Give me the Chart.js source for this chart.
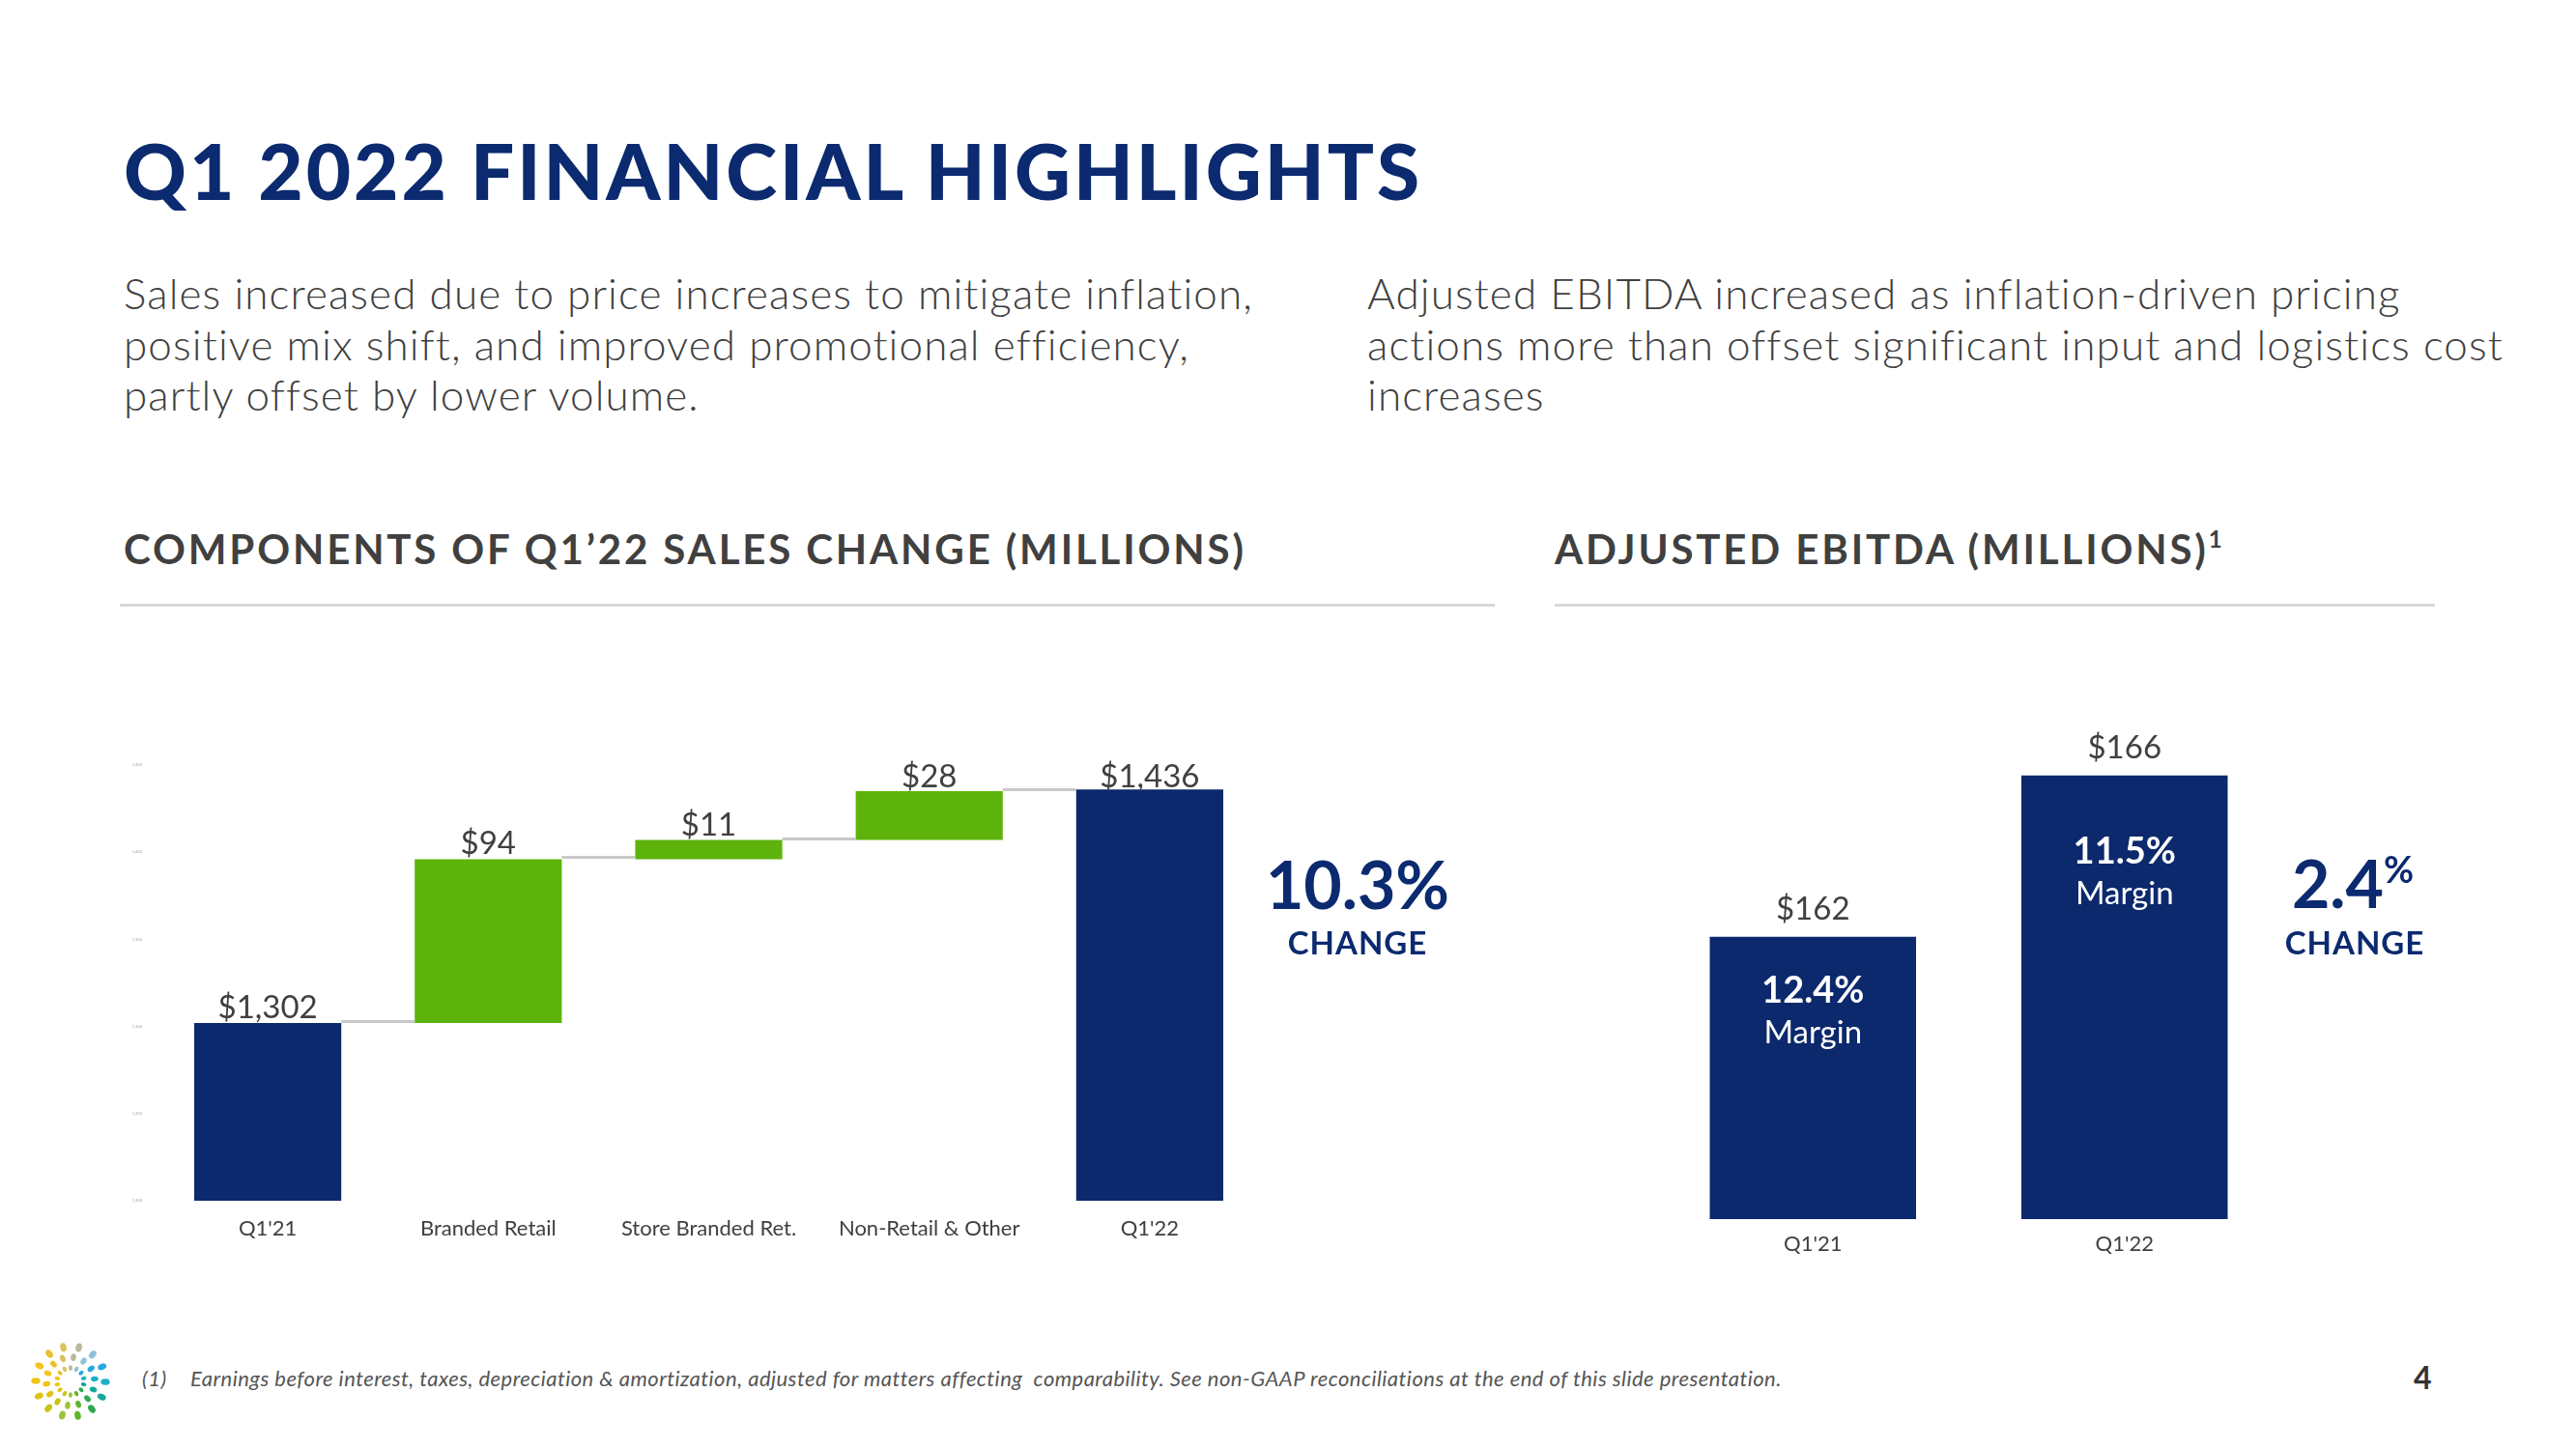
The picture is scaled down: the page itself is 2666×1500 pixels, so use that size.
<!DOCTYPE html>
<html>
<head>
<meta charset="utf-8">
<script src="https://cdn.jsdelivr.net/npm/chart.js"></script>
<style>
  html, body { margin: 0; padding: 0; background: #fff; }
  #slide { position: relative; width: 2666px; height: 1500px; overflow: hidden; font-family: 'Lato', sans-serif; color: #404040; }
  .abs { position: absolute; white-space: nowrap; }
  .title { left: 128px; top: 136px; font-size: 80px; line-height: 1; font-weight: 900; color: #0b2a6f; letter-spacing: 3px; }
  .para { font-size: 44px; line-height: 52.5px; font-weight: 300; color: #404040; letter-spacing: 1.1px; }
  .head { top: 547px; font-size: 42px; line-height: 1; font-weight: 700; color: #404040; letter-spacing: 2.85px; }
  .head sup { font-size: 24px; vertical-align: 17px; line-height: 0; letter-spacing: 0; }
  .rule { top: 625px; height: 3px; background: #d9d9d9; }
  .big { font-size: 68px; line-height: 1; font-weight: 700; color: #0b2a6f; text-align: center; }
  .big sup { font-size: 38px; vertical-align: 26px; line-height: 0; }
  .chg { font-size: 33px; line-height: 1; font-weight: 700; color: #0b2a6f; text-align: center; letter-spacing: 1px; }
  .foot { top: 1416px; font-size: 22px; line-height: 1; font-style: italic; color: #555; letter-spacing: 0.47px; }
  .page { left: 2498px; top: 1410px; font-size: 32px; line-height: 1; font-weight: 700; color: #333; }
  canvas.abs { display: block; }
</style>
</head>
<body>
<div id="slide">
  <div class="abs title">Q1 2022 FINANCIAL HIGHLIGHTS</div>

  <div class="abs para" style="left:128px; top:277px;">Sales increased due to price increases to mitigate inflation,<br>positive mix shift, and improved promotional efficiency,<br>partly offset by lower volume.</div>
  <div class="abs para" style="left:1415px; top:277px;">Adjusted EBITDA increased as inflation-driven pricing<br>actions more than offset significant input and logistics cost<br>increases</div>

  <div class="abs head" style="left:128px;">COMPONENTS OF Q1’22 SALES CHANGE (MILLIONS)</div>
  <div class="abs head" style="left:1609px;">ADJUSTED EBITDA (MILLIONS)<sup>1</sup></div>
  <div class="abs rule" style="left:124px; width:1423px;"></div>
  <div class="abs rule" style="left:1609px; width:911px;"></div>

  <canvas id="chartSales" class="abs" width="1191" height="603" style="left:113px; top:700px;"></canvas>
  <canvas id="chartEbitda" class="abs" width="645" height="622" style="left:1715px; top:700px;"></canvas>

  <div class="abs big" id="sales-change" style="left:1255px; width:300px; top:881px;"></div>
  <div class="abs chg" style="left:1255px; width:300px; top:959px;">CHANGE</div>
  <div class="abs big" id="ebitda-change" style="left:2285px; width:300px; top:880px;"></div>
  <div class="abs chg" style="left:2287px; width:300px; top:959px;">CHANGE</div>

  <canvas id="logo" class="abs" width="90" height="90" style="left:28px; top:1385px;"></canvas>
  <div class="abs foot" style="left:147px;">(1)</div>
  <div class="abs foot" style="left:197px;">Earnings before interest, taxes, depreciation &amp; amortization, adjusted for matters affecting&nbsp; comparability. See non-GAAP reconciliations at the end of this slide presentation.</div>
  <div class="abs page">4</div>
</div>

<script>
// --- Dados ---
const salesCategories = ["Q1'21", 'Branded Retail', 'Store Branded Ret.', 'Non-Retail & Other', "Q1'22"];
const salesValues = [1302, 94, 11, 28, 1436];
const salesIsTotal = [true, false, false, false, true];
const salesAxis = [1200, 1450, 50]; // min, max, passo

const ebitdaCategories = ["Q1'21", "Q1'22"];
const ebitdaValues = [162, 166];
const ebitdaMargins = [12.4, 11.5];
const ebitdaAxis = [155, 167];

const salesChangePct = 10.3;
const ebitdaChangePct = 2.4;

const NAVY = '#0b296c';
const GREEN = '#5db30b';

Chart.defaults.font.family = 'Lato';
Chart.defaults.color = '#404040';

const money = v => '$' + v.toLocaleString('en-US');

// Monta as faixas flutuantes do waterfall
let running = 0;
const salesRanges = salesValues.map((v, i) => {
    if (salesIsTotal[i]) { running = v; return [salesAxis[0], v]; }
    const r = [running, running + v];
    running += v;
    return r;
});

// --- Plugin: conectores + rótulos do waterfall ---
const waterfallExtras = {
    id: 'waterfallExtras',
    afterDatasetsDraw(chart) {
        const { ctx, chartArea, scales: { y } } = chart;
        const bars = chart.getDatasetMeta(0).data;
        ctx.save();
        ctx.strokeStyle = '#c8c8c8';
        ctx.lineWidth = 3;
        for (let i = 0; i < bars.length - 1; i++) {
            const py = Math.round(y.getPixelForValue(salesRanges[i][1])) - 1.5;
            ctx.beginPath();
            ctx.moveTo(bars[i].x + bars[i].width / 2, py);
            ctx.lineTo(bars[i + 1].x - bars[i + 1].width / 2, py);
            ctx.stroke();
        }
        ctx.fillStyle = '#404040';
        ctx.font = '400 33px Lato';
        ctx.textAlign = 'center';
        ctx.textBaseline = 'alphabetic';
        bars.forEach((bar, i) => {
            const yPos = Math.max(bar.y - 5, chartArea.top + 23);
            ctx.fillText(money(salesValues[i]), bar.x, yPos);
        });
        ctx.restore();
    }
};

// --- Plugin: rótulos do EBITDA ---
const ebitdaExtras = {
    id: 'ebitdaExtras',
    afterDatasetsDraw(chart, args, opts) {
        const { ctx } = chart;
        const bars = chart.getDatasetMeta(0).data;
        ctx.save();
        ctx.textAlign = 'center';
        ctx.textBaseline = 'alphabetic';
        bars.forEach((bar, i) => {
            ctx.fillStyle = '#404040';
            ctx.font = '400 33px Lato';
            ctx.fillText(money(ebitdaValues[i]), bar.x, bar.y - 18);
            const base = bar.y + opts.innerOffsets[i];
            ctx.fillStyle = '#ffffff';
            ctx.font = '700 38px Lato';
            ctx.fillText(ebitdaMargins[i].toFixed(1) + '%', bar.x, base);
            ctx.font = '400 33px Lato';
            ctx.fillText('Margin', bar.x, base + 42);
        });
        ctx.restore();
    }
};

function initCharts() {
    new Chart(document.getElementById('chartSales'), {
        type: 'bar',
        data: {
            labels: salesCategories,
            datasets: [{
                data: salesRanges,
                backgroundColor: salesIsTotal.map(t => t ? NAVY : GREEN),
                borderWidth: 0,
                barPercentage: 0.667,
                categoryPercentage: 1.0
            }]
        },
        options: {
            responsive: false,
            animation: false,
            layout: { padding: { top: 92, left: 0, right: 0, bottom: 0 } },
            plugins: { legend: { display: false }, tooltip: { enabled: false } },
            scales: {
                x: {
                    grid: { display: false, drawTicks: false },
                    border: { display: false },
                    ticks: { color: '#404040', font: { size: 22 }, padding: 16 },
                    afterFit: s => { s.height = 60; }
                },
                y: {
                    min: salesAxis[0],
                    max: salesAxis[1],
                    grid: { display: false, drawTicks: false },
                    border: { display: false },
                    ticks: {
                        stepSize: salesAxis[2],
                        color: '#a0a0a0',
                        font: { size: 4 },
                        padding: 16,
                        callback: v => v.toLocaleString('en-US')
                    },
                    afterFit: s => { s.width = 50; }
                }
            }
        },
        plugins: [waterfallExtras]
    });

    new Chart(document.getElementById('chartEbitda'), {
        type: 'bar',
        data: {
            labels: ebitdaCategories,
            datasets: [{
                data: ebitdaValues,
                backgroundColor: NAVY,
                borderWidth: 0,
                barPercentage: 0.662,
                categoryPercentage: 1.0
            }]
        },
        options: {
            responsive: false,
            animation: false,
            layout: { padding: { top: 61, left: 0, right: 0, bottom: 0 } },
            plugins: {
                legend: { display: false },
                tooltip: { enabled: false },
                ebitdaExtras: { innerOffsets: [68, 91] }
            },
            scales: {
                x: {
                    grid: { display: false, drawTicks: false },
                    border: { display: false },
                    ticks: { color: '#404040', font: { size: 22 }, padding: 13 },
                    afterFit: s => { s.height = 60; }
                },
                y: { display: false, min: ebitdaAxis[0], max: ebitdaAxis[1] }
            }
        },
        plugins: [ebitdaExtras]
    });
}

// --- Logo (girassol de pontos) ---
function drawLogo() {
    const ctx = document.getElementById('logo').getContext('2d');
    const cx = 45, cy = 45;
    const colors = ['#b8b89a', '#8fc1d8', '#2aa7e1', '#1fb0c9', '#16a89a', '#2fa84f', '#62b22f', '#9cc33b',
                    '#c9c41a', '#e0c214', '#f1c40f', '#f3c51c', '#e9c22b', '#d9c35a'];
    const rings = [[14, 2.8], [25, 3.9], [36, 4.6]];
    colors.forEach((c, i) => {
        const a = -Math.PI / 2 + i * (2 * Math.PI / colors.length);
        rings.forEach(([r, s], k) => {
            const aa = a + k * 0.12;
            ctx.fillStyle = c;
            ctx.beginPath();
            ctx.ellipse(cx + r * Math.cos(aa), cy + r * Math.sin(aa), s, s * 0.7, aa, 0, 2 * Math.PI);
            ctx.fill();
        });
    });
}

document.getElementById('sales-change').textContent = salesChangePct.toFixed(1) + '%';
document.getElementById('ebitda-change').innerHTML = ebitdaChangePct.toFixed(1) + '<sup>%</sup>';

initCharts();
drawLogo();
</script>
</body>
</html>
